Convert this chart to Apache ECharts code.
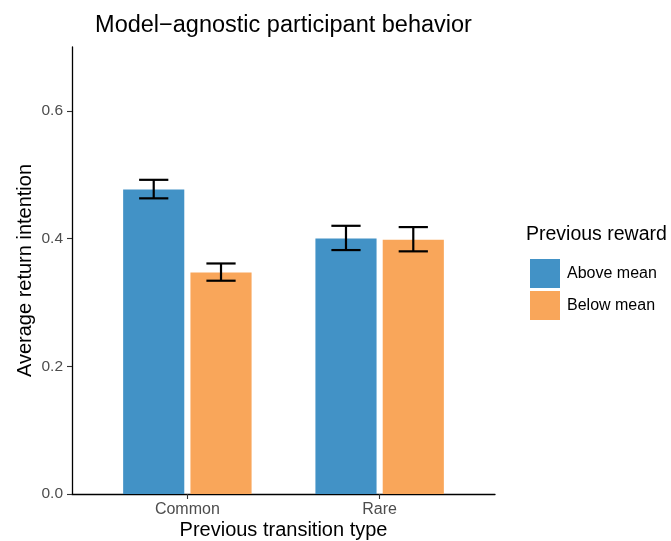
<!DOCTYPE html>
<html>
<head>
<meta charset="utf-8">
<script src="https://cdn.jsdelivr.net/npm/echarts@6/dist/echarts.min.js"></script>
<style>
  html, body { margin: 0; padding: 0; background: #fff; }
  #chart { width: 671px; height: 541px; }
</style>
</head>
<body>
<div id="chart"></div>
<script>
// Categories and group summaries (mean with lower/upper error bounds)
const categories = ['Common', 'Rare'];
const rewardLevels = ['Above mean', 'Below mean'];

const aboveMean = [0.477, 0.400];
const aboveLow  = [0.463, 0.382];
const aboveHigh = [0.492, 0.420];

const belowMean = [0.347, 0.398];
const belowLow  = [0.334, 0.380];
const belowHigh = [0.361, 0.418];

const yTicks = [0, 0.2, 0.4, 0.6];

const colors = ['#4292c6', '#f9a65a'];
const FONT = '"Liberation Sans", Arial, Helvetica, sans-serif';

// dodge layout on a continuous x scale (category k sits at k+1)
const dodge = 0.175;
const barHalf = 0.159;
const capHalf = 0.076;

function buildData(means, lows, highs, offset) {
  return categories.map((c, i) => [i + 1 + offset, means[i], lows[i], highs[i]]);
}

function renderBarWithError(params, api) {
  const xc = api.value(0), y = api.value(1), lo = api.value(2), hi = api.value(3);
  const base = api.coord([xc - barHalf, 0]);
  const top = api.coord([xc + barHalf, y]);
  const pHi = api.coord([xc, hi]);
  const pLo = api.coord([xc, lo]);
  const capL = api.coord([xc - capHalf, hi])[0];
  const capR = api.coord([xc + capHalf, hi])[0];
  const lineStyle = { stroke: '#000', lineWidth: 2.2 };
  return {
    type: 'group',
    children: [
      { type: 'rect', shape: { x: base[0], y: top[1], width: top[0] - base[0], height: base[1] - top[1] },
        style: { fill: api.visual('color') } },
      { type: 'line', shape: { x1: pHi[0], y1: pHi[1], x2: pLo[0], y2: pLo[1] }, style: lineStyle },
      { type: 'line', shape: { x1: capL, y1: pHi[1], x2: capR, y2: pHi[1] }, style: lineStyle },
      { type: 'line', shape: { x1: capL, y1: pLo[1], x2: capR, y2: pLo[1] }, style: lineStyle }
    ]
  };
}

const chart = echarts.init(document.getElementById('chart'), null, { renderer: 'canvas' });

chart.setOption({
  animation: false,
  backgroundColor: '#fff',
  title: {
    text: 'Model\u2212agnostic participant behavior',
    left: 278.5,
    textAlign: 'center',
    top: 9,
    textStyle: { fontFamily: FONT, fontSize: 23.5, fontWeight: 'normal', color: '#000' }
  },
  grid: { left: 72, right: 176, top: 47, bottom: 47, containLabel: false, outerBoundsMode: 'none' },
  xAxis: {
    type: 'value',
    min: 0.4,
    max: 2.6,
    name: 'Previous transition type',
    nameLocation: 'middle',
    nameGap: 26,
    nameMoveOverlap: false,
    nameTextStyle: { fontFamily: FONT, fontSize: 20, color: '#000' },
    axisLine: { show: true, lineStyle: { color: '#000', width: 1.3 } },
    axisTick: { show: true, length: 5, lineStyle: { color: '#333', width: 1.1 }, customValues: [1, 2] },
    axisLabel: {
      customValues: [1, 2],
      formatter: v => categories[Math.round(v) - 1] || '',
      fontFamily: FONT, fontSize: 16, color: '#4d4d4d', margin: 8
    },
    splitLine: { show: false }
  },
  yAxis: {
    type: 'value',
    min: 0,
    max: 0.7,
    name: 'Average return intention',
    nameLocation: 'middle',
    nameGap: 37,
    nameMoveOverlap: false,
    nameTextStyle: { fontFamily: FONT, fontSize: 20, color: '#000' },
    axisLine: { show: true, lineStyle: { color: '#000', width: 1.3 } },
    axisTick: { show: true, length: 5, lineStyle: { color: '#333', width: 1.1 }, customValues: yTicks },
    axisLabel: {
      customValues: yTicks,
      formatter: v => v.toFixed(1),
      fontFamily: FONT, fontSize: 15.5, color: '#4d4d4d', margin: 9
    },
    splitLine: { show: false }
  },
  legend: {
    data: rewardLevels,
    orient: 'vertical',
    left: 525,
    top: 254,
    itemWidth: 30,
    itemHeight: 29,
    itemGap: 3,
    icon: 'rect',
    textStyle: { fontFamily: FONT, fontSize: 16, color: '#000', padding: [0, 0, 0, 2] }
  },
  graphic: [
    {
      type: 'text',
      left: 526,
      top: 225,
      style: { text: 'Previous reward', font: '19.5px ' + FONT, fill: '#000' }
    }
  ],
  series: [
    {
      name: rewardLevels[0],
      type: 'custom',
      itemStyle: { color: colors[0] },
      encode: { x: 0, y: [1, 2, 3] },
      renderItem: renderBarWithError,
      data: buildData(aboveMean, aboveLow, aboveHigh, -dodge)
    },
    {
      name: rewardLevels[1],
      type: 'custom',
      itemStyle: { color: colors[1] },
      encode: { x: 0, y: [1, 2, 3] },
      renderItem: renderBarWithError,
      data: buildData(belowMean, belowLow, belowHigh, dodge)
    }
  ]
});
</script>
</body>
</html>
